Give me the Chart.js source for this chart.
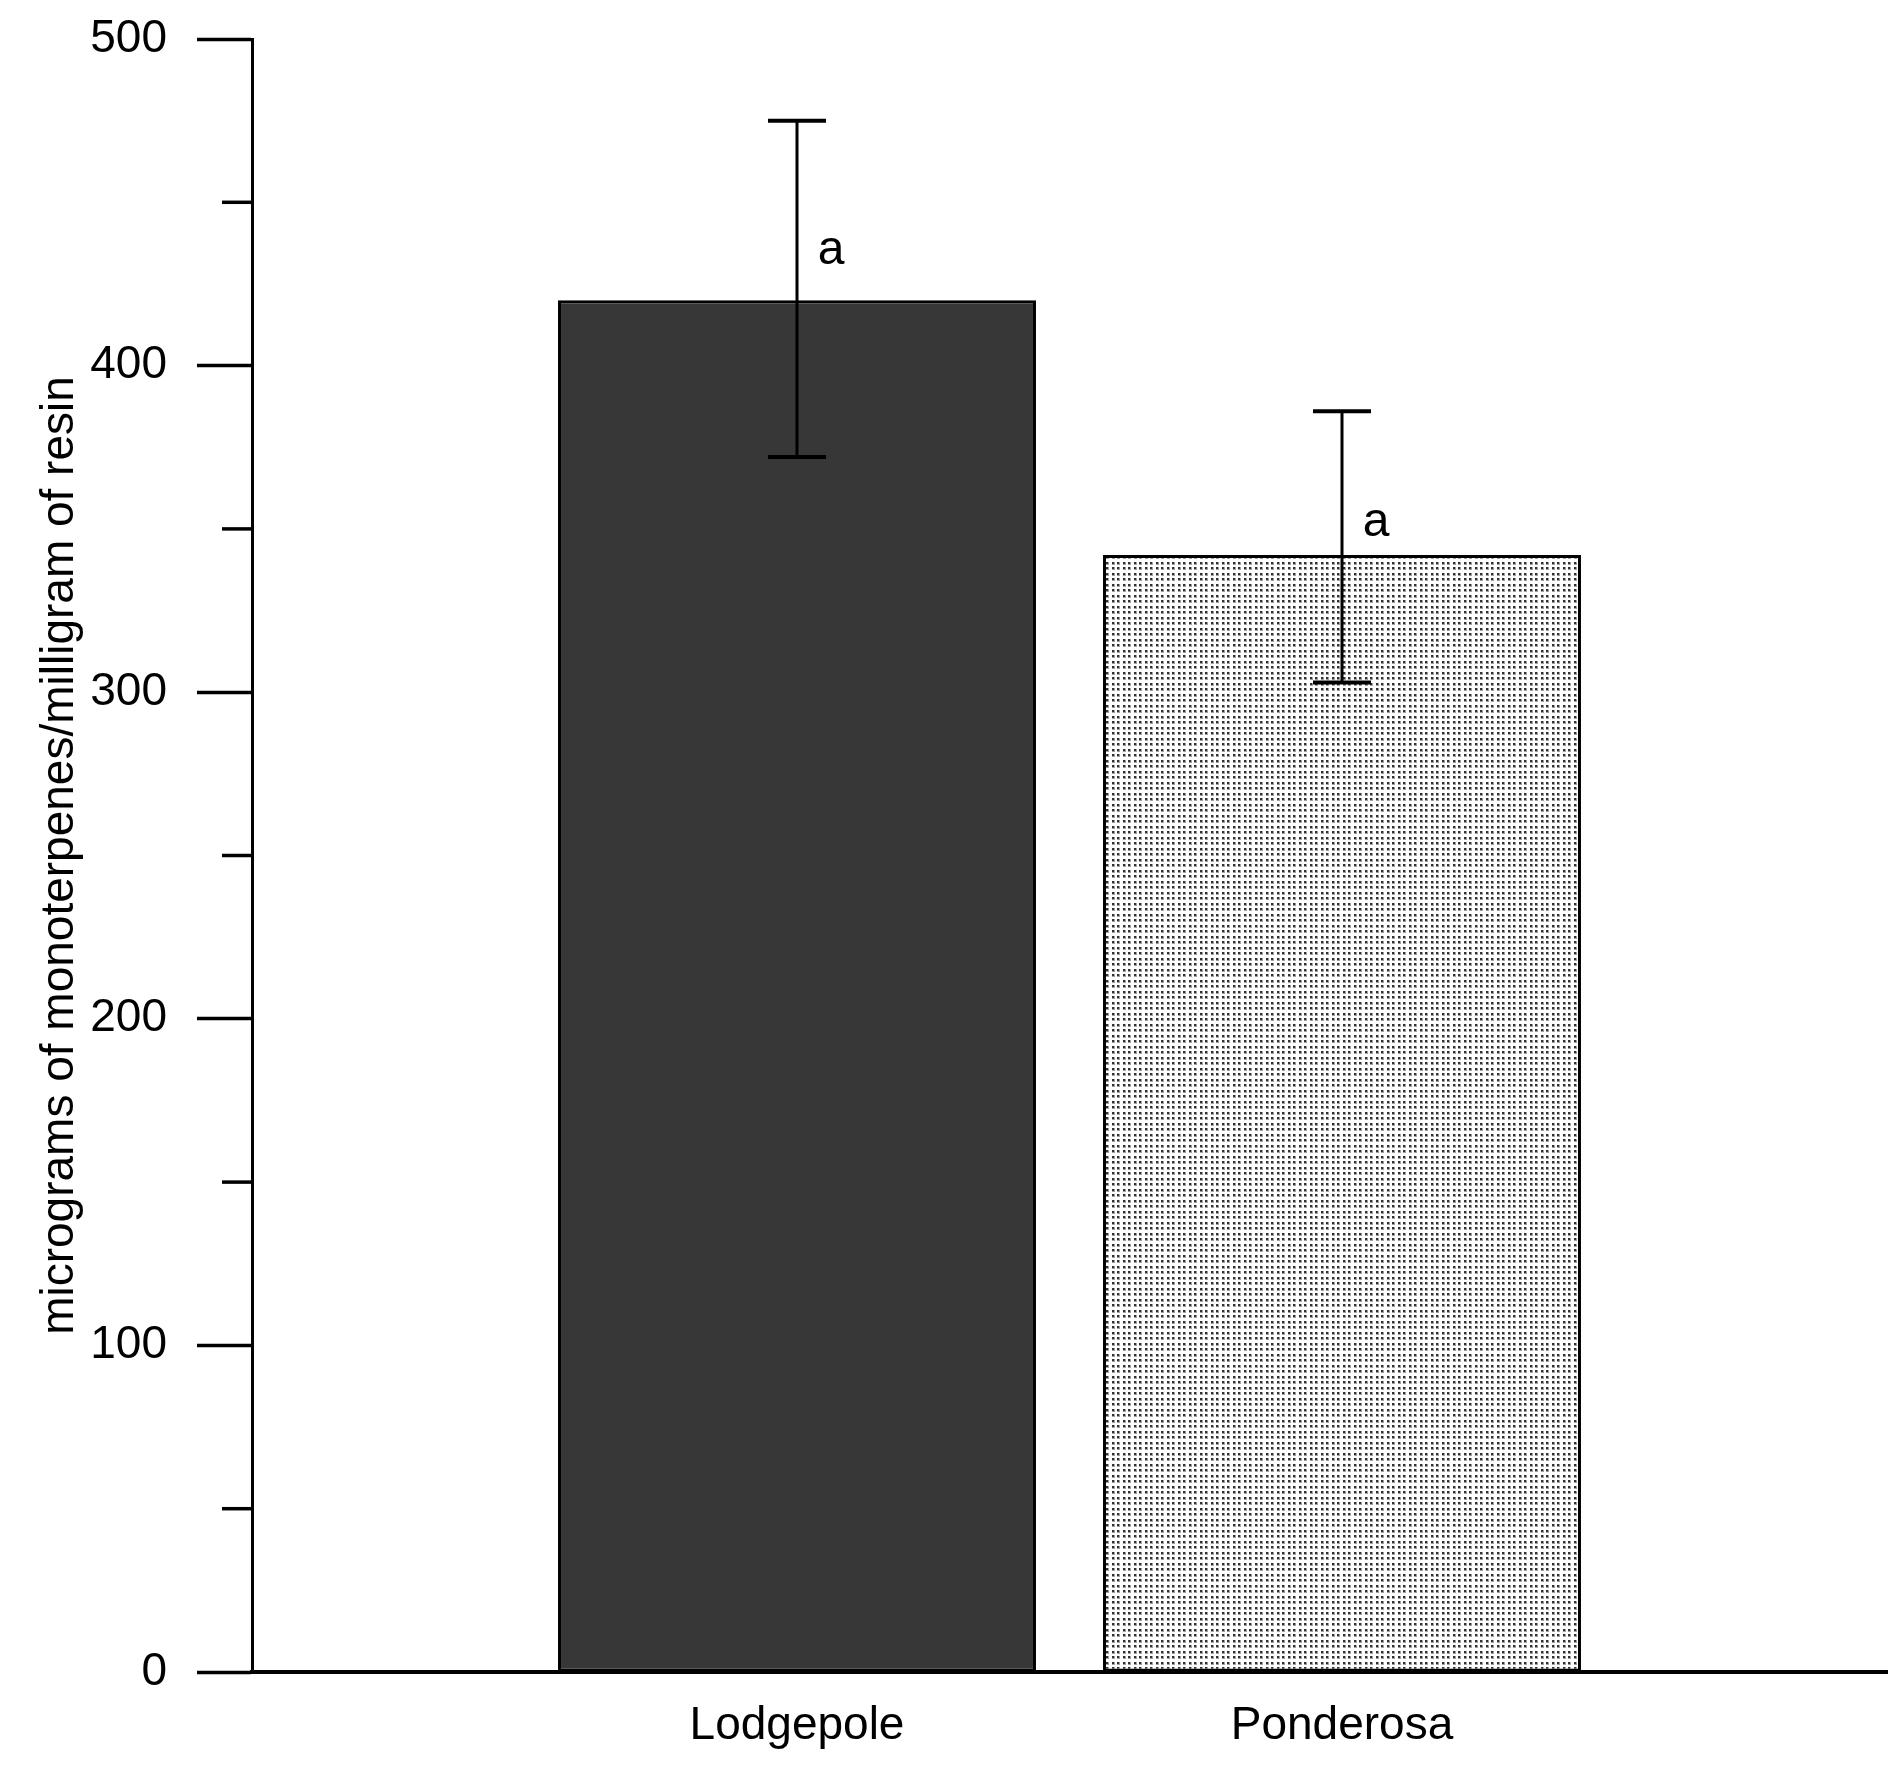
<!DOCTYPE html>
<html>
<head>
<meta charset="utf-8">
<script src="https://cdn.jsdelivr.net/npm/chart.js@4"></script>
<style>
  html, body { margin: 0; padding: 0; background: #ffffff; }
  #wrap { width: 1897px; height: 1769px; }
</style>
</head>
<body>
<div id="wrap"><canvas id="c" width="1897" height="1769"></canvas></div>
<script>
// ---- data ----
const categories = ['Lodgepole', 'Ponderosa'];
const means = [420, 342];
const errUpper = [475, 386];
const errLower = [372, 303];
const letters = ['a', 'a'];
const yMin = 0;
const yMax = 500;
const majorStep = 100;
const minorStep = 50;
const yTitle = 'micrograms of monoterpenes/milligram of resin';

// ---- styling helpers ----
const FONT = 'Liberation Sans, Arial, Helvetica, sans-serif';

function makeDotPattern() {
  const t = document.createElement('canvas');
  t.width = 11; t.height = 11;
  const g = t.getContext('2d');
  g.fillStyle = '#ffffff';
  g.fillRect(0, 0, 11, 11);
  const dots = [[1, 1], [6, 1], [1, 6], [6, 6]];
  g.fillStyle = '#a0a0a0';
  dots.forEach(p => g.fillRect(p[0], p[1], 3, 3));
  g.fillStyle = '#303030';
  dots.forEach(p => g.fillRect(p[0], p[1], 2, 2));
  const ctx = document.getElementById('c').getContext('2d');
  return ctx.createPattern(t, 'repeat');
}

const labels = ['', ...categories, ''];
const barData = [null, ...means, null];
const fills = ['#373737', '#373737', makeDotPattern(), '#373737'];

const errorBarPlugin = {
  id: 'errorBars',
  afterDatasetsDraw(chart) {
    const ctx = chart.ctx;
    const xs = chart.scales.x, ys = chart.scales.y;
    ctx.save();
    ctx.strokeStyle = '#000';
    categories.forEach((c, i) => {
      const x = xs.getPixelForValue(i + 1);
      const yU = ys.getPixelForValue(errUpper[i]);
      const yL = ys.getPixelForValue(errLower[i]);
      const yM = ys.getPixelForValue(means[i]);
      ctx.lineWidth = 3;
      ctx.beginPath();
      ctx.moveTo(x, yU); ctx.lineTo(x, yL);
      ctx.stroke();
      ctx.lineWidth = 4;
      ctx.beginPath();
      ctx.moveTo(x - 29, yU); ctx.lineTo(x + 29, yU);
      ctx.moveTo(x - 29, yL); ctx.lineTo(x + 29, yL);
      ctx.stroke();
      // significance letter
      ctx.fillStyle = '#000';
      ctx.font = '48px ' + FONT;
      ctx.textAlign = 'center';
      ctx.textBaseline = 'middle';
      ctx.fillText(letters[i], x + 34, (yU + yM) / 2 + 40);
    });
    ctx.restore();
  },
  afterDraw(chart) {
    // minor y ticks
    const ctx = chart.ctx;
    const ys = chart.scales.y;
    const left = chart.chartArea.left;
    ctx.save();
    ctx.strokeStyle = '#000';
    ctx.lineWidth = 3.5;
    for (let v = yMin + minorStep; v < yMax; v += minorStep) {
      if (v % majorStep === 0) continue;
      const y = ys.getPixelForValue(v);
      ctx.beginPath();
      ctx.moveTo(left - 30, y);
      ctx.lineTo(left, y);
      ctx.stroke();
    }
    ctx.restore();
  }
};

new Chart(document.getElementById('c'), {
  type: 'bar',
  data: {
    labels: labels,
    datasets: [{
      data: barData,
      backgroundColor: fills,
      borderColor: '#000',
      borderWidth: 3,
      borderSkipped: false,
      categoryPercentage: 1.0,
      barPercentage: 0.877
    }]
  },
  options: {
    responsive: false,
    devicePixelRatio: 1,
    animation: false,
    events: [],
    layout: { padding: { top: 39, right: 10, bottom: 0, left: 0 } },
    plugins: {
      legend: { display: false },
      tooltip: { enabled: false },
      title: { display: false }
    },
    scales: {
      x: {
        type: 'category',
        offset: false,
        grid: { display: true, drawOnChartArea: false, drawTicks: false },
        border: { display: true, color: '#000', width: 4 },
        ticks: {
          color: '#000',
          font: { family: FONT, size: 46 },
          padding: 27,
          autoSkip: false,
          maxRotation: 0
        },
        afterFit(scale) {
          scale.height = 97;
          scale.paddingLeft = 0;
          scale.paddingRight = 0;
        }
      },
      y: {
        min: yMin,
        max: yMax,
        grid: {
          display: true,
          drawOnChartArea: false,
          drawTicks: true,
          tickLength: 55,
          tickWidth: 3.5,
          tickColor: (ctx) => (ctx.tick && ctx.tick.value % majorStep === 0) ? '#000' : 'rgba(0,0,0,0)'
        },
        border: { display: true, color: '#000', width: 3 },
        ticks: {
          stepSize: minorStep,
          color: '#000',
          font: { family: FONT, size: 46 },
          padding: 30,
          callback: (v) => (v % majorStep === 0 ? String(v) : '')
        },
        title: {
          display: true,
          text: yTitle,
          color: '#000',
          font: { family: FONT, size: 46 },
          padding: { top: 33, bottom: 0 }
        },
        afterFit(scale) {
          scale.width = 252;
          scale.paddingTop = 0;
          scale.paddingBottom = 0;
        }
      }
    }
  },
  plugins: [errorBarPlugin]
});
</script>
</body>
</html>
